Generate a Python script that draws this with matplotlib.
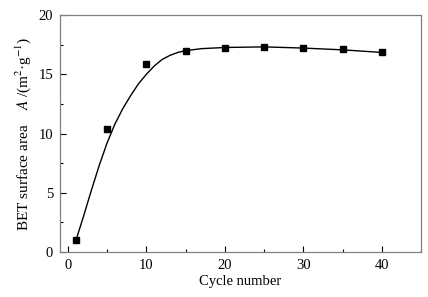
import numpy as np
import matplotlib
matplotlib.use("Agg")
import matplotlib.pyplot as plt
from matplotlib.ticker import MultipleLocator

plt.rcParams['font.family'] = ['Liberation Serif', 'DejaVu Serif']
plt.rcParams['mathtext.fontset'] = 'stix'

# measured points
cycles = [1, 5, 10, 15, 20, 25, 30, 35, 40]
bet_area = [1.0, 10.35, 15.9, 17.0, 17.25, 17.35, 17.2, 17.1, 16.85]

# fitted curve
fit_x = [1, 2, 3, 4, 5, 6, 7, 8, 9, 10, 11, 12, 13, 14, 15, 17, 20, 25, 30, 35, 40]
fit_y = [0.9, 3.0, 5.2, 7.3, 9.2, 10.8, 12.1, 13.2, 14.2, 15.0, 15.7, 16.25,
         16.6, 16.85, 17.0, 17.17, 17.27, 17.32, 17.22, 17.07, 16.85]

fig = plt.figure(figsize=(4.28, 2.97), dpi=100)
ax = fig.add_axes([0.140, 0.1515, 0.844, 0.7975])

ax.plot(fit_x, fit_y, color='black', lw=1.0)
ax.plot(cycles, bet_area, 's', color='black', ms=4.5)

ax.set_xlim(-1, 45)
ax.set_ylim(0, 20)
ax.xaxis.set_minor_locator(MultipleLocator(5))
ax.yaxis.set_major_locator(MultipleLocator(5))
ax.yaxis.set_minor_locator(MultipleLocator(2.5))
ax.set_xticks([0, 10, 20, 30, 40])
ax.tick_params(which='major', direction='in', length=4, width=0.8, labelsize=10.5, pad=5)
ax.tick_params(which='minor', direction='in', length=2, width=0.8)

for s in ax.spines.values():
    s.set_color('#808080')
    s.set_linewidth(0.9)

ax.set_xlabel('Cycle number', fontsize=10.5, labelpad=2)
ax.set_ylabel('BET surface area    $A$ /(m$^2$·g$^{-1}$)', fontsize=11, labelpad=4)

fig.savefig('out.png', dpi=100)
